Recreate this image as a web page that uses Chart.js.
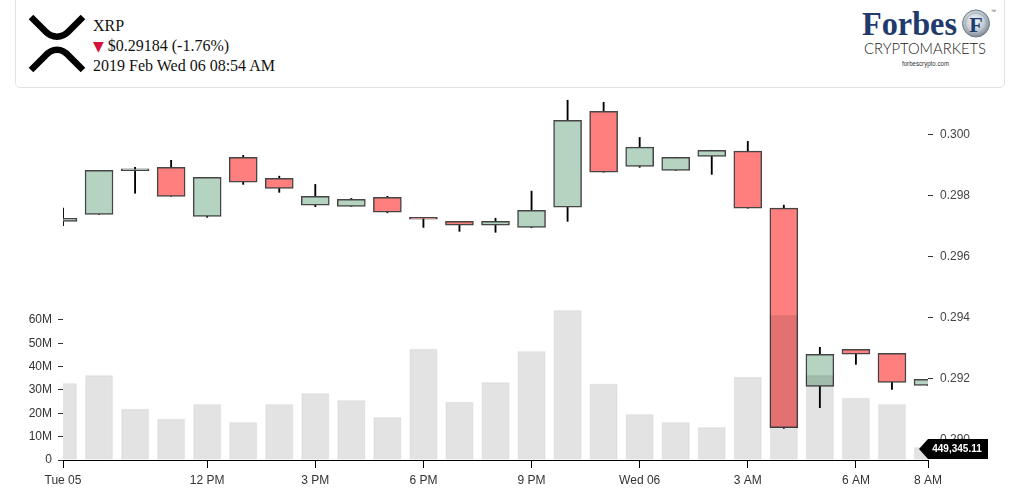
<!DOCTYPE html>
<html><head><meta charset="utf-8">
<script src="https://cdn.jsdelivr.net/npm/chart.js@4.4.1/dist/chart.umd.min.js"></script>
<style>
html,body{margin:0;padding:0;background:#fff;width:1024px;height:490px;overflow:hidden;}
#chart{position:absolute;left:0;top:0;}
#card{position:absolute;left:15px;top:-6px;width:988px;height:92px;border:1px solid #e2e2e2;border-radius:5px;background:#fff;}
.t{position:absolute;left:93px;font-family:'Liberation Serif','Times New Roman',serif;font-size:16px;line-height:20px;color:#111;white-space:nowrap;}
#logos{position:absolute;left:0;top:0;}
</style></head>
<body>
<canvas id="chart" width="1024" height="490"></canvas>
<div id="card"></div>
<svg id="logos" width="1024" height="90" xmlns="http://www.w3.org/2000/svg">
  <defs>
    <radialGradient id="coin" cx="45%" cy="40%" r="60%">
      <stop offset="0%" stop-color="#f3f6f8"/>
      <stop offset="60%" stop-color="#c3ccd4"/>
      <stop offset="100%" stop-color="#7d8893"/>
    </radialGradient>
  </defs>
  <path d="M31,17 L45,31 C52,38.5 62,38.5 69,31 L83,17" fill="none" stroke="#000" stroke-width="6.5"/>
  <path d="M31,70 L45,56 C52,47.5 62,47.5 69,56 L83,70" fill="none" stroke="#000" stroke-width="6.5"/>
  <text x="862" y="35" font-family="Liberation Serif, Times New Roman, serif" font-weight="bold" font-size="34" fill="#1f3a6c" textLength="95" lengthAdjust="spacingAndGlyphs">Forbes</text>
  <circle cx="976" cy="23.5" r="13.5" fill="url(#coin)" stroke="#6f7b86" stroke-width="1"/>
  <circle cx="976" cy="23.5" r="10.5" fill="none" stroke="#9aa4ad" stroke-width="0.8"/>
  <text x="976" y="31.5" text-anchor="middle" font-family="Liberation Serif, serif" font-weight="bold" font-size="22" fill="#1f3a6c">F</text>
  <text x="991" y="13" font-family="Liberation Sans, Arial, sans-serif" font-size="5" fill="#333">™</text>
  <text x="864" y="53.5" font-family="Lato, Liberation Sans, Arial, sans-serif" font-weight="300" font-size="16" fill="#222" textLength="122" lengthAdjust="spacingAndGlyphs">CRYPTOMARKETS</text>
  <text x="902" y="66" font-family="Liberation Sans, Arial, sans-serif" font-size="6.5" fill="#333" textLength="47" lengthAdjust="spacingAndGlyphs">forbescrypto.com</text>
</svg>
<div class="t" style="top:16px">XRP</div>
<div class="t" style="top:36px"><span style="color:#d3123b;font-family:'DejaVu Sans',sans-serif;font-size:14px;">▼</span> $0.29184 (-1.76%)</div>
<div class="t" style="top:56px">2019 Feb Wed 06 08:54 AM</div>
<script>
// ---- data ----
const categories = ['Tue 05 08:00','09:00','10:00','11:00','12:00','13:00','14:00','15:00','16:00','17:00','18:00','19:00','20:00','21:00','22:00','23:00','Wed 06 00:00','01:00','02:00','03:00','04:00','05:00','06:00','07:00','08:00'];
const xTickLabels = ['Tue 05','','','','12 PM','','','3 PM','','','6 PM','','','9 PM','','','Wed 06','','','3 AM','','','6 AM','','8 AM'];
const opens  = [0.29717,0.29740,0.29883,0.29894,0.29733,0.29927,0.29858,0.29770,0.29766,0.29796,0.29730,0.29717,0.29704,0.29697,0.29763,0.30078,0.29897,0.29884,0.29930,0.29947,0.29760,0.29176,0.29297,0.29284,0.29179];
const highs  = [0.29760,0.29884,0.29894,0.29917,0.29861,0.29933,0.29865,0.29838,0.29792,0.29799,0.29730,0.29717,0.29727,0.29816,0.30114,0.30107,0.29992,0.29927,0.29950,0.29979,0.29770,0.29304,0.29297,0.29284,0.29199];
const lows   = [0.29703,0.29740,0.29809,0.29799,0.29730,0.29838,0.29812,0.29765,0.29766,0.29745,0.29697,0.29684,0.29681,0.29696,0.29717,0.29878,0.29894,0.29884,0.29871,0.29760,0.29038,0.29106,0.29248,0.29166,0.29179];
const closes = [0.29727,0.29884,0.29889,0.29799,0.29861,0.29845,0.29825,0.29799,0.29789,0.29747,0.29724,0.29704,0.29717,0.29753,0.30048,0.29878,0.29960,0.29927,0.29950,0.29760,0.29040,0.29281,0.29281,0.29189,0.29199];
const volumes = [33.0,36.4,21.9,17.6,24.0,16.3,24.0,28.7,25.7,18.4,47.6,24.9,33.4,46.7,64.3,32.6,19.7,16.3,14.1,35.6,62.1,36.4,26.6,24.0,5.5]; // millions
const priceTicks = [0.290,0.292,0.294,0.296,0.298,0.300];
const volumeTicks = [0,10,20,30,40,50,60];
const lastVolumeLabel = '449,345.11';

const UP = '#b5d3c1', DOWN = '#ff7f7f';
const bodies = opens.map((o,i)=>[o, closes[i]]);
const wicks = lows.map((l,i)=>[l, highs[i]]);
const bodyColors = opens.map((o,i)=> closes[i] >= o ? UP : DOWN);

const FONT = "'Liberation Sans', Arial, sans-serif";

const volLabelPlugin = {
  id: 'volLabel',
  afterDraw(chart){
    const ctx = chart.ctx, a = chart.chartArea;
    const left = a.right, right = a.right + 60, top = a.bottom - 21, bottom = a.bottom - 1, tip = a.right - 9;
    const mid = (top + bottom) / 2;
    ctx.save();
    ctx.fillStyle = '#000';
    ctx.beginPath();
    ctx.moveTo(tip, mid);
    ctx.lineTo(left, top);
    ctx.lineTo(right, top);
    ctx.lineTo(right, bottom);
    ctx.lineTo(left, bottom);
    ctx.closePath();
    ctx.fill();
    ctx.fillStyle = '#fff';
    ctx.font = "bold 10px " + FONT;
    ctx.textAlign = 'center';
    ctx.textBaseline = 'middle';
    ctx.fillText(lastVolumeLabel, (left + right) / 2 - 1, mid + 0.5);
    ctx.restore();
  }
};

new Chart(document.getElementById('chart'), {
  type: 'bar',
  data: {
    labels: categories,
    datasets: [
      { label: 'Volume', data: volumes, yAxisID: 'vol', grouped: false, order: 0, clip: 0,
        backgroundColor: 'rgba(0,0,0,0.11)', borderColor: 'rgba(0,0,0,0.05)', borderWidth: 1,
        barThickness: 28 },
      { label: 'Body', data: bodies, yAxisID: 'y', grouped: false, order: 1, clip: 0,
        backgroundColor: bodyColors, borderColor: '#454545', borderWidth: 1.5, borderSkipped: false,
        barThickness: 28 },
      { label: 'Wick', data: wicks, yAxisID: 'y', grouped: false, order: 2, clip: 0,
        backgroundColor: '#000', borderWidth: 0, barThickness: 1.2 }
    ]
  },
  options: {
    responsive: false,
    animation: false,
    layout: { padding: { top: 98, left: 0, right: 0, bottom: 0 } },
    plugins: { legend: { display: false }, tooltip: { enabled: false } },
    scales: {
      x: {
        type: 'category',
        offset: false,
        grid: { display: true, offset: false, drawOnChartArea: false, drawTicks: true, tickLength: 8, tickColor: '#000', lineWidth: 1 },
        border: { display: true, color: '#000', width: 1 },
        afterBuildTicks(scale){ scale.ticks = scale.ticks.filter(t => xTickLabels[t.value]); },
        ticks: { autoSkip: false, maxRotation: 0, minRotation: 0, padding: 5, color: '#333',
          font: { family: FONT, size: 12 },
          callback: (v) => xTickLabels[v] },
        afterFit(scale){ scale.height = 30; }
      },
      y: {
        type: 'linear', position: 'right',
        min: 0.289344, max: 0.301213,
        grid: { display: true, drawOnChartArea: false, drawTicks: true, tickLength: 5, tickColor: '#333' },
        border: { display: false },
        afterBuildTicks(scale){ scale.ticks = priceTicks.map(v => ({ value: v })); },
        ticks: { padding: 7, color: '#444', font: { family: FONT, size: 12 }, callback: (v) => Number(v).toFixed(3) },
        afterFit(scale){ scale.width = 96; }
      },
      vol: {
        type: 'linear', position: 'left',
        min: 0, max: 155.14,
        grid: { display: true, drawOnChartArea: false, drawTicks: true, tickLength: 5, tickColor: '#333' },
        border: { display: false },
        afterBuildTicks(scale){ scale.ticks = volumeTicks.map(v => ({ value: v })); },
        ticks: { padding: 6, color: '#333', font: { family: FONT, size: 12 }, callback: (v) => v === 0 ? '0' : v + 'M' },
        afterFit(scale){ scale.width = 63; }
      }
    }
  },
  plugins: [volLabelPlugin]
});
</script>
</body></html>
